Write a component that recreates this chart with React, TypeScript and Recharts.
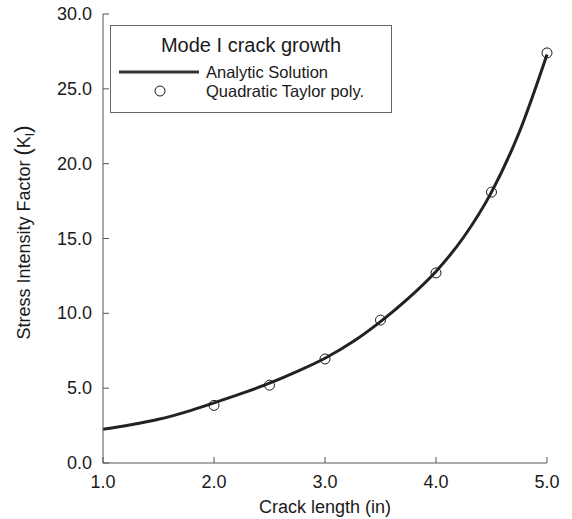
import { ComposedChart, Line, Scatter, XAxis, YAxis } from "recharts";

// analytic solution
const curveA = [1.0, 1.25, 1.5, 1.75, 2.0, 2.25, 2.5, 2.75, 3.0, 3.25, 3.5, 3.75, 4.0, 4.25, 4.5, 4.75, 5.0];
const curveK = [2.25, 2.55, 2.92, 3.42, 4.02, 4.65, 5.33, 6.12, 7.0, 8.1, 9.45, 11.0, 12.8, 15.1, 18.1, 22.1, 27.3];

// quadratic Taylor polynomial markers
const taylorA = [2.0, 2.5, 3.0, 3.5, 4.0, 4.5, 5.0];
const taylorK = [3.85, 5.2, 6.95, 9.55, 12.7, 18.1, 27.4];

const xTicks = [1, 2, 3, 4, 5];
const yTicks = [0, 5, 10, 15, 20, 25, 30];

const curveData = curveA.map((a, i) => ({ a, k: curveK[i] }));
const taylorData = taylorA.map((a, i) => ({ a, k: taylorK[i] }));

const FONT = "Arial, 'Liberation Sans', Helvetica, sans-serif";
const AXIS = "#555";
const INK = "#1a1a1a";

const LeftTick = ({ x, y, payload }: any) => (
  <g>
    <line x1={x} x2={x + 6} y1={y} y2={y} stroke={AXIS} />
    <text x={x - 11} y={y + 6} textAnchor="end" fontFamily={FONT} fontSize={18} fill={INK}>
      {payload.value.toFixed(1)}
    </text>
  </g>
);

const BottomTick = ({ x, y, payload }: any) => (
  <g>
    <line x1={x} x2={x} y1={y - 6} y2={y} stroke={AXIS} />
    <text x={x} y={y + 25} textAnchor="middle" fontFamily={FONT} fontSize={18} fill={INK}>
      {payload.value.toFixed(1)}
    </text>
  </g>
);

const RightTick = ({ x, y }: any) => <line x1={x - 6} x2={x} y1={y} y2={y} stroke={AXIS} />;
const TopTick = ({ x, y }: any) => <line x1={x} x2={x} y1={y} y2={y + 6} stroke={AXIS} />;

const YTitle = ({ viewBox }: any) => {
  const cx = viewBox.x + 30;
  const cy = viewBox.y + viewBox.height / 2 - 6;
  return (
    <text
      x={cx}
      y={cy}
      transform={`rotate(-90 ${cx} ${cy})`}
      textAnchor="middle"
      fontFamily={FONT}
      fontSize={18}
      fill={INK}
    >
      Stress Intensity Factor <tspan fontSize={22}>(</tspan>K
      <tspan fontSize={12} dy={4}>I</tspan>
      <tspan fontSize={22} dy={-4}>)</tspan>
    </text>
  );
};

const XTitle = ({ viewBox }: any) => (
  <text
    x={viewBox.x + viewBox.width / 2}
    y={viewBox.y + 50}
    textAnchor="middle"
    fontFamily={FONT}
    fontSize={18}
    fill={INK}
  >
    Crack length (in)
  </text>
);

const LegendBox = () => (
  <div
    style={{
      position: "absolute",
      left: 110,
      top: 25,
      width: 282,
      height: 88,
      boxSizing: "border-box",
      border: "1px solid #666",
      background: "#fff",
      fontFamily: FONT,
      color: INK,
      lineHeight: 1,
    }}
  >
    <div style={{ position: "absolute", left: 0, right: 0, top: 9, textAlign: "center", fontSize: 20 }}>
      Mode I crack growth
    </div>
    <svg style={{ position: "absolute", left: 6, top: 40 }} width={84} height={12}>
      <line x1={2} x2={82} y1={6} y2={6} stroke="#333" strokeWidth={3} />
    </svg>
    <div style={{ position: "absolute", left: 95, top: 38, fontSize: 16.5 }}>Analytic Solution</div>
    <svg style={{ position: "absolute", left: 42, top: 58 }} width={14} height={14}>
      <circle cx={7} cy={7} r={5} fill="none" stroke={INK} strokeWidth={1} />
    </svg>
    <div style={{ position: "absolute", left: 95, top: 57, fontSize: 16.5 }}>Quadratic Taylor poly.</div>
  </div>
);

export default function App() {
  return (
    <div style={{ position: "absolute", left: 0, top: 0, width: 572, height: 519, background: "#fff" }}>
      <ComposedChart width={572} height={519} margin={{ top: 14, right: 25, left: 0, bottom: 0 }}>
        <XAxis
          xAxisId="bottom"
          type="number"
          dataKey="a"
          domain={[1, 5]}
          ticks={xTicks}
          interval={0}
          height={56}
          tickSize={0}
          tickMargin={0}
          tickLine={false}
          tick={<BottomTick />}
          axisLine={{ stroke: AXIS }}
          label={<XTitle />}
        />
        <XAxis
          xAxisId="top"
          orientation="top"
          type="number"
          dataKey="a"
          domain={[1, 5]}
          ticks={xTicks}
          interval={0}
          height={0}
          tickSize={0}
          tickMargin={0}
          tickLine={false}
          tick={<TopTick />}
          axisLine={{ stroke: AXIS }}
        />
        <YAxis
          yAxisId="left"
          type="number"
          domain={[0, 30]}
          ticks={yTicks}
          interval={0}
          width={103}
          tickSize={0}
          tickMargin={0}
          tickLine={false}
          tick={<LeftTick />}
          axisLine={{ stroke: AXIS }}
          label={<YTitle />}
        />
        <YAxis
          yAxisId="right"
          orientation="right"
          type="number"
          domain={[0, 30]}
          ticks={yTicks}
          interval={0}
          width={0}
          tickSize={0}
          tickMargin={0}
          tickLine={false}
          tick={<RightTick />}
          axisLine={{ stroke: AXIS }}
        />
        <Scatter
          xAxisId="bottom"
          yAxisId="left"
          data={taylorData}
          dataKey="k"
          isAnimationActive={false}
          shape={(p: any) => <circle cx={p.cx} cy={p.cy} r={5} fill="none" stroke={INK} strokeWidth={1} />}
        />
        <Line
          xAxisId="bottom"
          yAxisId="left"
          data={curveData}
          dataKey="k"
          type="monotone"
          stroke="#222"
          strokeWidth={3}
          dot={false}
          activeDot={false}
          isAnimationActive={false}
        />
      </ComposedChart>
      <LegendBox />
    </div>
  );
}
